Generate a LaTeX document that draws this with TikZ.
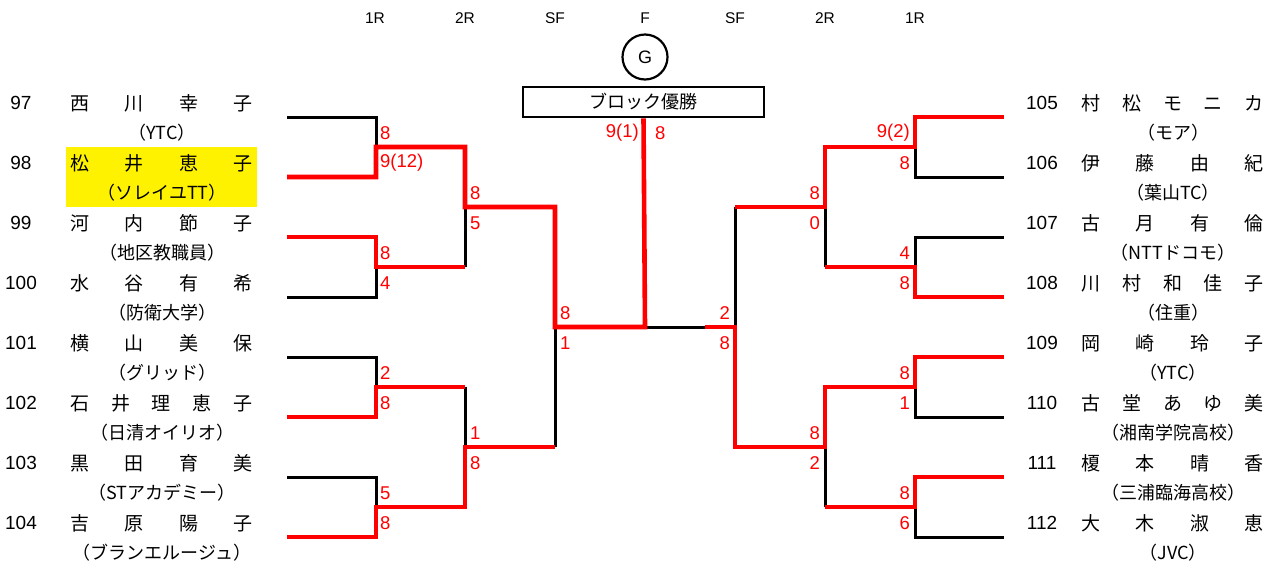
\documentclass[tikz,border=0pt]{standalone}
\usepackage{fontspec}
\setmainfont{Liberation Sans}
\newfontfamily\jp{Noto Sans CJK JP}
\newcommand\spreadname[1]{\makebox[182pt]{#1}}
\begin{document}
\begin{tikzpicture}[x=1pt,y=-1pt,
  blk/.style={line width=3pt, black, line join=miter},
  rd/.style={line width=4.6pt, red, line join=miter},
  sc/.style={text=red, font=\fontsize{18.5}{18.5}\selectfont, inner sep=0pt},
  scl/.style={sc, anchor=west},
  scr/.style={sc, anchor=east},
  hdr/.style={font=\fontsize{15.5}{15.5}\selectfont, inner sep=0pt},
  num/.style={font=\fontsize{19}{19}\selectfont, inner sep=0pt},
  nm/.style={font=\jp\fontsize{19}{19}\selectfont, inner sep=0pt},
  aff/.style={font=\jp\fontsize{18}{18}\selectfont, inner sep=0pt}]
\useasboundingbox (0,0) rectangle (1279,566);

% highlight
\fill[yellow] (66,147) rectangle (257,207);

% headers
\node[hdr] (h1) at (375,18) {1R};
\node[hdr] (h2) at (465,18) {2R};
\node[hdr] (h3) at (555,18) {SF};
\node[hdr] (h4) at (645,18) {F};
\node[hdr] (h5) at (735,18) {SF};
\node[hdr] (h6) at (825,18) {2R};
\node[hdr] (h7) at (915,18) {1R};

% G circle and box
\node[draw, circle, line width=2.2pt, minimum size=45pt, inner sep=0pt, font=\fontsize{18}{18}\selectfont] (g) at (645,57) {G};
\node[draw, line width=2.6pt, minimum width=241pt, minimum height=30pt, inner sep=0pt, font=\jp\fontsize{18}{18}\selectfont] (box) at (643.5,102) {ブロック優勝};

% left players
\node[num] (i97) at (21,103) {97};
\node[nm] (n97) at (161.5,103) {\spreadname{西\hfill 川\hfill 幸\hfill 子}};
\node[aff] (t97) at (162,133) {（YTC）};
\node[num] (i98) at (21,163) {98};
\node[nm] (n98) at (161.5,163) {\spreadname{松\hfill 井\hfill 恵\hfill 子}};
\node[aff] (t98) at (162,193) {（ソレイユTT）};
\node[num] (i99) at (21,223) {99};
\node[nm] (n99) at (161.5,223) {\spreadname{河\hfill 内\hfill 節\hfill 子}};
\node[aff] (t99) at (162,253) {（地区教職員）};
\node[num] (i100) at (21,283) {100};
\node[nm] (n100) at (161.5,283) {\spreadname{水\hfill 谷\hfill 有\hfill 希}};
\node[aff] (t100) at (162,313) {（防衛大学）};
\node[num] (i101) at (21,343) {101};
\node[nm] (n101) at (161.5,343) {\spreadname{横\hfill 山\hfill 美\hfill 保}};
\node[aff] (t101) at (162,373) {（グリッド）};
\node[num] (i102) at (21,403) {102};
\node[nm] (n102) at (161.5,403) {\spreadname{石\hfill 井\hfill 理\hfill 恵\hfill 子}};
\node[aff] (t102) at (162,433) {（日清オイリオ）};
\node[num] (i103) at (21,463) {103};
\node[nm] (n103) at (161.5,463) {\spreadname{黒\hfill 田\hfill 育\hfill 美}};
\node[aff] (t103) at (162,493) {（STアカデミー）};
\node[num] (i104) at (21,523) {104};
\node[nm] (n104) at (161.5,523) {\spreadname{吉\hfill 原\hfill 陽\hfill 子}};
\node[aff] (t104) at (162,553) {（ブランエルージュ）};

% right players
\node[num] (i105) at (1042,103) {105};
\node[nm] (n105) at (1172.5,103) {\spreadname{村\hfill 松\hfill モ\hfill ニ\hfill カ}};
\node[aff] (t105) at (1173,133) {（モア）};
\node[num] (i106) at (1042,163) {106};
\node[nm] (n106) at (1172.5,163) {\spreadname{伊\hfill 藤\hfill 由\hfill 紀}};
\node[aff] (t106) at (1173,193) {（葉山TC）};
\node[num] (i107) at (1042,223) {107};
\node[nm] (n107) at (1172.5,223) {\spreadname{古\hfill 月\hfill 有\hfill 倫}};
\node[aff] (t107) at (1173,253) {（NTTドコモ）};
\node[num] (i108) at (1042,283) {108};
\node[nm] (n108) at (1172.5,283) {\spreadname{川\hfill 村\hfill 和\hfill 佳\hfill 子}};
\node[aff] (t108) at (1173,313) {（住重）};
\node[num] (i109) at (1042,343) {109};
\node[nm] (n109) at (1172.5,343) {\spreadname{岡\hfill 崎\hfill 玲\hfill 子}};
\node[aff] (t109) at (1173,373) {（YTC）};
\node[num] (i110) at (1042,403) {110};
\node[nm] (n110) at (1172.5,403) {\spreadname{古\hfill 堂\hfill あ\hfill ゆ\hfill 美}};
\node[aff] (t110) at (1173,433) {（湘南学院高校）};
\node[num] (i111) at (1042,463) {111};
\node[nm] (n111) at (1172.5,463) {\spreadname{榎\hfill 本\hfill 晴\hfill 香}};
\node[aff] (t111) at (1173,493) {（三浦臨海高校）};
\node[num] (i112) at (1042,523) {112};
\node[nm] (n112) at (1172.5,523) {\spreadname{大\hfill 木\hfill 淑\hfill 恵}};
\node[aff] (t112) at (1173,553) {（JVC）};

% line ends
\coordinate (a97) at (287,117);
\coordinate (a98) at (287,177);
\coordinate (a99) at (287,237);
\coordinate (a100) at (287,297);
\coordinate (a101) at (287,357);
\coordinate (a102) at (287,417);
\coordinate (a103) at (287,477);
\coordinate (a104) at (287,537);
\coordinate (a105) at (1004,117);
\coordinate (a106) at (1004,177);
\coordinate (a107) at (1004,237);
\coordinate (a108) at (1004,297);
\coordinate (a109) at (1004,357);
\coordinate (a110) at (1004,417);
\coordinate (a111) at (1004,477);
\coordinate (a112) at (1004,537);
% junctions
\coordinate (m1) at (376,147);
\coordinate (m2) at (376,267);
\coordinate (m3) at (376,387);
\coordinate (m4) at (376,507);
\coordinate (n1) at (465,207);
\coordinate (n2) at (465,447);
\coordinate (s1) at (555,327);
\coordinate (f) at (645,327);
\coordinate (fr) at (705,327);
\coordinate (s2) at (735,327);
\coordinate (n3) at (825,207);
\coordinate (n4) at (825,447);
\coordinate (m5) at (915,147);
\coordinate (m6) at (915,267);
\coordinate (m7) at (915,387);
\coordinate (m8) at (915,507);

% black lines
\draw[blk] (a97) -- (a97 -| m1) -- (m1);
\draw[blk] (a100) -- (a100 -| m2) -- (m2);
\draw[blk] (a101) -- (a101 -| m3) -- (m3);
\draw[blk] (a103) -- (a103 -| m4) -- (m4);
\draw[blk] (n1) -- (n1 |- m2);
\draw[blk] (n2) -- (n2 |- m3);
\draw[blk] (s1) -- (s1 |- n2);
\draw[blk] (f) -- (fr);
\draw[blk] (s2) -- (s2 |- n3);
\draw[blk] (n3) -- (n3 |- m6);
\draw[blk] (n4) -- (n4 |- m8);
\draw[blk] (a106) -- (a106 -| m5) -- (m5);
\draw[blk] (a107) -- (a107 -| m6) -- (m6);
\draw[blk] (a110) -- (a110 -| m7) -- (m7);
\draw[blk] (a112) -- (a112 -| m8) -- (m8);

% red lines
\draw[rd] (a98) -- (a98 -| m1) -- (m1) -- (n1 |- m1) -- (n1) -- (s1 |- n1) -- (s1) -- (f) -- (box.south);
\draw[rd] (a99) -- (a99 -| m2) -- (m2) -- (n1 |- m2);
\draw[rd] (a102) -- (a102 -| m3) -- (m3) -- (n2 |- m3);
\draw[rd] (a104) -- (a104 -| m4) -- (m4) -- (n2 |- m4) -- (n2) -- (s1 |- n2);
\draw[rd] (a105) -- (a105 -| m5) -- (m5) -- (n3 |- m5) -- (n3) -- (s2 |- n3);
\draw[rd] (a108) -- (a108 -| m6) -- (m6) -- (n3 |- m6);
\draw[rd] (a109) -- (a109 -| m7) -- (m7) -- (n4 |- m7) -- (n4) -- (s2 |- n4) -- (s2) -- (fr);
\draw[rd] (a111) -- (a111 -| m8) -- (m8) -- (n4 |- m8);

% scores left
\node[scl] (c1) at (380,133) {8};
\node[scl] (c2) at (380,163) {9(12)};
\node[scl] (c3) at (380,253) {8};
\node[scl] (c4) at (380,283) {4};
\node[scl] (c5) at (380,373) {2};
\node[scl] (c6) at (380,403) {8};
\node[scl] (c7) at (380,493) {5};
\node[scl] (c8) at (380,523) {8};
\node[scl] (c9) at (470,193) {8};
\node[scl] (c10) at (470,223) {5};
\node[scl] (c11) at (470,433) {1};
\node[scl] (c12) at (470,463) {8};
\node[scl] (c13) at (560,313) {8};
\node[scl] (c14) at (560,343) {1};
% final
\node[scr] (c15) at (639,133) {9(1)};
\node[scl] (c16) at (655,133) {8};
% scores right
\node[scr] (c17) at (730,313) {2};
\node[scr] (c18) at (730,343) {8};
\node[scr] (c19) at (820,193) {8};
\node[scr] (c20) at (820,223) {0};
\node[scr] (c21) at (820,433) {8};
\node[scr] (c22) at (820,463) {2};
\node[scr] (c23) at (910,133) {9(2)};
\node[scr] (c24) at (910,163) {8};
\node[scr] (c25) at (910,253) {4};
\node[scr] (c26) at (910,283) {8};
\node[scr] (c27) at (910,373) {8};
\node[scr] (c28) at (910,403) {1};
\node[scr] (c29) at (910,493) {8};
\node[scr] (c30) at (910,523) {6};
\end{tikzpicture}
\end{document}
